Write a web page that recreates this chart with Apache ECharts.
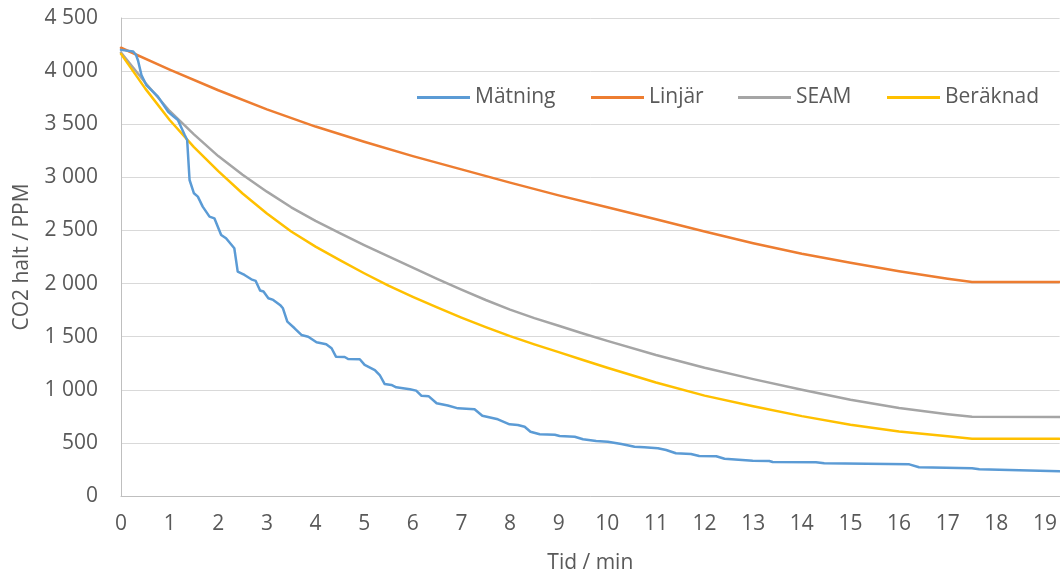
<!DOCTYPE html>
<html>
<head>
<meta charset="utf-8">
<script src="https://cdn.jsdelivr.net/npm/echarts@6/dist/echarts.min.js"></script>
<style>
html,body{margin:0;padding:0;background:#fff;}
#c{width:1060px;height:583px;}
</style>
</head>
<body>
<div id="c"></div>
<script>
// ---- Data ----
const seriesNames = ['Mätning', 'Linjär', 'SEAM', 'Beräknad'];

const matningTime = [0, 0.25, 0.31, 0.35, 0.42, 0.52, 0.76, 0.97, 1.07, 1.17, 1.31, 1.36, 1.41, 1.50, 1.58, 1.68, 1.82, 1.92, 2.06, 2.16, 2.33, 2.40, 2.54, 2.68, 2.77, 2.86, 2.93, 3.03, 3.13, 3.27, 3.33, 3.42, 3.57, 3.71, 3.85, 4.02, 4.22, 4.33, 4.42, 4.60, 4.67, 4.91, 5.01, 5.22, 5.32, 5.42, 5.56, 5.66, 5.94, 6.07, 6.18, 6.33, 6.49, 6.72, 6.93, 7.27, 7.43, 7.75, 7.99, 8.16, 8.30, 8.42, 8.61, 8.92, 9.02, 9.33, 9.50, 9.77, 10.01, 10.29, 10.56, 10.76, 11.04, 11.21, 11.41, 11.72, 11.89, 12.24, 12.41, 12.99, 13.33, 13.40, 14.29, 14.46, 16.21, 16.41, 17.50, 17.65, 18.06, 19.30];
const matningPpm  = [4200, 4185, 4152, 4100, 3963, 3869, 3760, 3618, 3578, 3540, 3399, 3352, 2975, 2850, 2818, 2724, 2630, 2614, 2457, 2426, 2332, 2112, 2081, 2040, 2025, 1935, 1925, 1862, 1846, 1799, 1767, 1641, 1579, 1516, 1500, 1447, 1428, 1391, 1312, 1309, 1290, 1287, 1234, 1186, 1139, 1055, 1045, 1023, 1005, 992, 943, 938, 873, 852, 825, 816, 756, 722, 675, 668, 652, 605, 581, 577, 565, 558, 534, 518, 511, 490, 464, 459, 449, 433, 402, 395, 377, 374, 351, 332, 330, 320, 318, 308, 298, 270, 262, 251, 248, 232];

const linjarTime = [0, 1, 2, 3, 4, 5, 6, 7, 8, 9, 10, 11, 12, 13, 14, 15, 16, 17, 17.5, 19.3];
const linjarPpm  = [4220, 4015, 3820, 3640, 3478, 3335, 3200, 3075, 2950, 2830, 2718, 2605, 2490, 2380, 2280, 2195, 2115, 2045, 2015, 2015];

const seamTime = [0, 0.5, 1, 1.5, 2, 2.5, 3, 3.5, 4, 4.5, 5, 5.5, 6, 6.5, 7, 7.5, 8, 8.5, 9, 9.5, 10, 11, 12, 13, 14, 15, 16, 17, 17.5, 19.3];
const seamPpm  = [4175, 3890, 3625, 3405, 3200, 3025, 2865, 2718, 2590, 2475, 2362, 2255, 2150, 2045, 1942, 1845, 1755, 1675, 1603, 1530, 1460, 1328, 1208, 1100, 1000, 907, 828, 770, 746, 744];

const beraknadTime = [0, 0.5, 1, 1.5, 2, 2.5, 3, 3.5, 4, 4.5, 5, 5.5, 6, 6.5, 7, 7.5, 8, 8.5, 9, 9.5, 10, 11, 12, 13, 14, 15, 16, 17, 17.5, 19.3];
const beraknadPpm  = [4162, 3835, 3540, 3285, 3058, 2848, 2660, 2490, 2348, 2220, 2097, 1980, 1875, 1775, 1680, 1590, 1505, 1428, 1355, 1280, 1208, 1068, 945, 845, 752, 670, 608, 562, 540, 538];

const xTicks = {min: 0, max: 19.3, interval: 1};
const yTicks = {min: 0, max: 4500, interval: 500};

// ---- Chart ----
const colors = ['#5B9BD5', '#ED7D31', '#A5A5A5', '#FFC000'];
const zip = (t, v) => t.map((x, i) => [x, v[i]]);
const seriesData = [zip(matningTime, matningPpm), zip(linjarTime, linjarPpm), zip(seamTime, seamPpm), zip(beraknadTime, beraknadPpm)];

const FONT = '"Open Sans"';
const TXT = '#595959';
const FS = 21;
const legendLefts = [417, 591, 738, 887];

const chart = echarts.init(document.getElementById('c'), null, {renderer: 'canvas'});
chart.setOption({
  animation: false,
  color: colors,
  textStyle: {fontFamily: FONT},
  grid: {left: 121, right: 0, top: 18, bottom: 87, containLabel: false},
  legend: seriesNames.map((n, i) => ({
    data: [{name: n, icon: 'rect'}],
    left: legendLefts[i],
    top: 87,
    itemWidth: 53,
    itemHeight: 3,
    itemGap: 0,
    padding: 0,
    itemStyle: {color: colors[i], borderWidth: 0},
    textStyle: {fontFamily: FONT, fontSize: FS, color: TXT}
  })),
  xAxis: {
    type: 'value',
    min: xTicks.min, max: xTicks.max, interval: xTicks.interval,
    name: 'Tid / min',
    nameLocation: 'middle',
    nameGap: 57,
    nameTextStyle: {fontFamily: FONT, fontSize: FS, color: TXT},
    axisLine: {show: true, lineStyle: {color: '#bfbfbf', width: 1}},
    axisTick: {show: false},
    splitLine: {show: false},
    axisLabel: {
      fontFamily: FONT, fontSize: FS, color: TXT, margin: 18,
      showMaxLabel: false,
      formatter: v => Number.isInteger(v) ? String(v) : ''
    }
  },
  yAxis: {
    type: 'value',
    min: yTicks.min, max: yTicks.max, interval: yTicks.interval,
    name: 'CO2 halt / PPM',
    nameLocation: 'middle',
    nameGap: 88,
    nameRotate: 90,
    nameTextStyle: {fontFamily: FONT, fontSize: FS, color: TXT},
    axisLine: {show: true, lineStyle: {color: '#bfbfbf', width: 1}},
    axisTick: {show: false},
    splitLine: {show: true, lineStyle: {color: '#d9d9d9', width: 1}},
    axisLabel: {
      fontFamily: FONT, fontSize: FS, color: TXT, margin: 23,
      formatter: v => String(v).replace(/\B(?=(\d{3})+(?!\d))/g, ' ')
    }
  },
  series: seriesNames.map((n, i) => ({
    name: n,
    type: 'line',
    data: seriesData[i],
    symbol: 'none',
    showSymbol: false,
    smooth: false,
    z: [5, 2, 3, 4][i],
    lineStyle: {color: colors[i], width: 2.5, cap: 'round', join: 'round'}
  }))
});
</script>
</body>
</html>
